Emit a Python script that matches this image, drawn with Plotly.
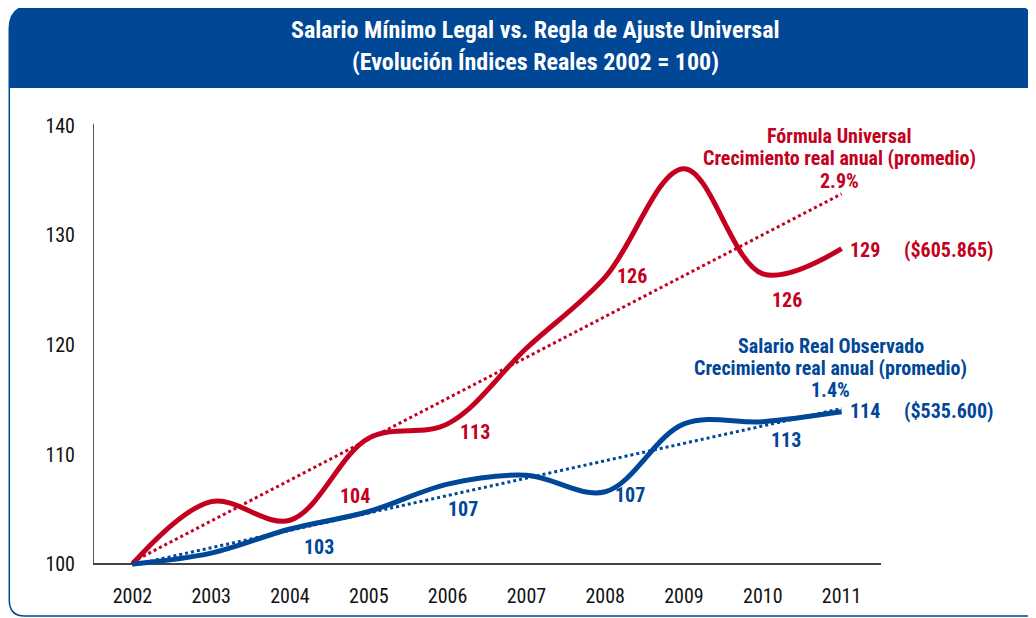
import plotly.graph_objects as go

# ---------------- data ----------------
years = [2002, 2003, 2004, 2005, 2006, 2007, 2008, 2009, 2010, 2011]
formula_universal = [100.0, 105.7, 104.0, 111.5, 112.8, 119.7, 126.2, 136.1, 126.5, 128.8]
salario_real = [100.0, 101.0, 103.2, 104.8, 107.3, 108.1, 106.6, 112.8, 113.0, 113.9]
trend_years = [2002, 2011]
formula_trend = [100.2, 133.8]
salario_trend = [99.9, 114.2]
y_ticks = [100, 110, 120, 130, 140]

red_label_text = ["104", "113", "126", "126", "129"]
red_label_x = [2004.83, 2006.35, 2008.34, 2010.31, 2011.3]
red_label_y = [106.2, 112.1, 126.3, 124.1, 128.7]
blue_label_text = ["103", "107", "107", "113", "114"]
blue_label_x = [2004.37, 2006.2, 2008.31, 2010.29, 2011.3]
blue_label_y = [101.6, 105.0, 106.3, 111.3, 114.0]

title_lines = ["Salario Mínimo Legal vs. Regla de Ajuste Universal",
               "(Evolución Índices Reales 2002 = 100)"]
red_note = ["Fórmula Universal", "Crecimiento real anual (promedio)", "2.9%"]
blue_note = ["Salario Real Observado", "Crecimiento real anual (promedio)", "1.4%"]
red_amount = "($605.865)"
blue_amount = "($535.600)"

# ---------------- style ----------------
RED = "rgb(196,0,32)"
BLUE = "rgb(0,71,152)"
BANNER = "rgb(0,71,150)"
FONT = "Roboto Condensed, DejaVu Sans Condensed, sans-serif"

W, H = 1036, 618
OFF = 8  # page body margin: screen = figure + OFF
Y_RANGE = [99, 141]
UNIT = 10.95  # screen pixels per index point
# plot area in screen pixels
SX0, SX1 = 92.6, 881.5
SY1 = 564.0 + (100 - Y_RANGE[0]) * UNIT
SY0 = SY1 - (Y_RANGE[1] - Y_RANGE[0]) * UNIT
ML = SX0 - OFF
MR = W - (SX1 - OFF)
MT = SY0 - OFF
MB = H - (SY1 - OFF)
PW, PH = SX1 - SX0, SY1 - SY0


def px(x):
    return (x - SX0) / PW


def py(y):
    return (SY1 - y) / PH


fig = go.Figure()

fig.add_trace(go.Scatter(x=trend_years, y=formula_trend, mode="lines",
                         line=dict(color=RED, width=3, dash="3px,3px"), hoverinfo="skip"))
fig.add_trace(go.Scatter(x=trend_years, y=salario_trend, mode="lines",
                         line=dict(color=BLUE, width=3, dash="3px,3px"), hoverinfo="skip"))
fig.add_trace(go.Scatter(x=years, y=formula_universal, mode="lines",
                         line=dict(color=RED, width=5, shape="spline", smoothing=1.0)))
fig.add_trace(go.Scatter(x=years, y=salario_real, mode="lines",
                         line=dict(color=BLUE, width=5, shape="spline", smoothing=1.0)))


def ann(x, y, text, color, size, xref="x", yref="y"):
    return dict(x=x, y=y, xref=xref, yref=yref, text="<b>%s</b>" % text, showarrow=False,
                xanchor="center", yanchor="middle",
                font=dict(color=color, size=size, family=FONT))


annotations = []
for t, x, y in zip(red_label_text, red_label_x, red_label_y):
    annotations.append(ann(x, y, t, RED, 20))
for t, x, y in zip(blue_label_text, blue_label_x, blue_label_y):
    annotations.append(ann(x, y, t, BLUE, 20))

annotations.append(ann(px(950), py(250), red_amount, RED, 20, "paper", "paper"))
annotations.append(ann(px(950), py(411), blue_amount, BLUE, 20, "paper", "paper"))

for t, yp in zip(red_note, [136, 158, 181]):
    annotations.append(ann(px(840), py(yp), t, RED, 20, "paper", "paper"))
for t, yp in zip(blue_note, [346, 368, 390]):
    annotations.append(ann(px(831), py(yp), t, BLUE, 20, "paper", "paper"))

for t, yp in zip(title_lines, [30, 62]):
    annotations.append(ann(px(536), py(yp), t, "white", 24, "paper", "paper"))

# banner with rounded top corners (screen pixel coordinates)
bx0, bx1, by0, by1, r = 8, 1036, 5, 88, 24
banner_path = ("M {a},{b} L {a},{c} Q {a},{d} {e},{d} L {f},{d} Q {g},{d} {g},{c} L {g},{b} Z"
               .format(a=px(bx0), b=py(by1), c=py(by0 + r), d=py(by0), e=px(bx0 + r),
                       f=px(bx1 - r), g=px(bx1)))
frame_path = ("M {a},{b} L {a},{c} Q {a},{d} {e},{d} L {f},{d}"
              .format(a=px(8.8), b=py(88), c=py(600), d=py(616), e=px(24), f=px(1036)))

shapes = [
    dict(type="path", xref="paper", yref="paper", path=banner_path, fillcolor=BANNER,
         line=dict(width=0), layer="below"),
    dict(type="path", xref="paper", yref="paper", path=frame_path,
         line=dict(color=BANNER, width=1.5), layer="below"),
    dict(type="line", xref="x", yref="y", x0=2001.5, x1=2001.5, y0=100, y1=140.2,
         line=dict(color="#222222", width=1.5), layer="below"),
    dict(type="line", xref="x", yref="y", x0=2001.5, x1=2011.5, y0=100, y1=100,
         line=dict(color="#444444", width=2), layer="below"),
]

fig.update_layout(
    width=W, height=H,
    margin=dict(l=ML, r=MR, t=MT, b=MB, pad=0),
    paper_bgcolor="white", plot_bgcolor="white",
    showlegend=False, hovermode=False,
    annotations=annotations, shapes=shapes,
    font=dict(family=FONT, color="#111111"),
    xaxis=dict(range=[2001.5, 2011.5], tickvals=years, ticktext=[str(y) for y in years],
               showgrid=False, zeroline=False, showline=False, automargin=False,
               ticks="outside", ticklen=3, tickcolor="rgba(0,0,0,0)",
               tickfont=dict(size=20, family=FONT, color="#111111")),
    yaxis=dict(range=Y_RANGE, tickvals=y_ticks, showgrid=False, zeroline=False, showline=False,
               automargin=False,
               ticks="outside", ticklen=13, tickcolor="rgba(0,0,0,0)",
               tickfont=dict(size=20, family=FONT, color="#111111")),
)

fig.write_html("out.html")
